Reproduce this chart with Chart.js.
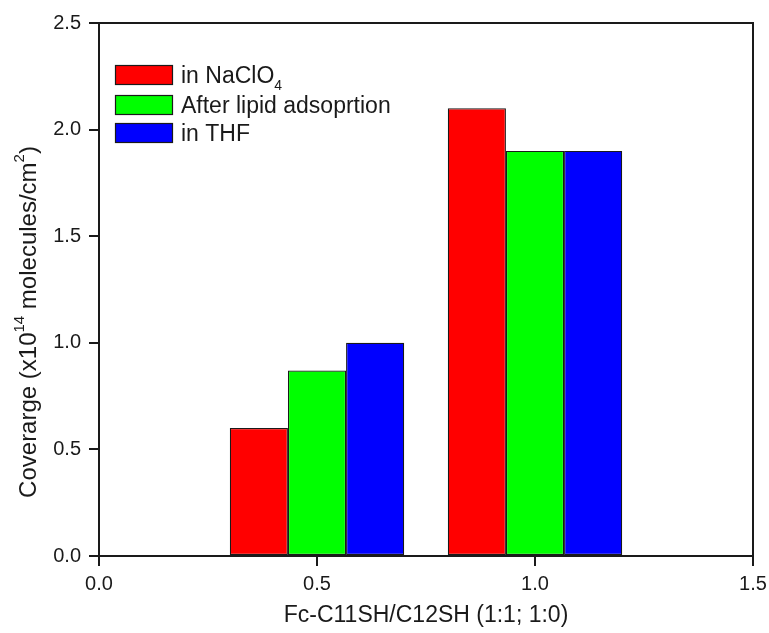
<!DOCTYPE html>
<html>
<head>
<meta charset="utf-8">
<script src="https://cdn.jsdelivr.net/npm/chart.js@4/dist/chart.umd.min.js"></script>
<style>
  html, body { margin: 0; padding: 0; background: #fff; }
  #wrap { position: relative; width: 769px; height: 633px; }
</style>
</head>
<body>
<div id="wrap"><canvas id="chart" width="769" height="633"></canvas></div>
<script>
// Composition ratio positions on the x axis
const ratios = [0.5, 1.0];

// Surface coverage (x10^14 molecules/cm^2) for each condition
const inNaClO4 = [0.6, 2.1];
const afterLipid = [0.87, 1.9];
const inTHF = [1.0, 1.9];

// Series names; "_{..}" marks a subscript, "^{..}" a superscript
const seriesNames = ['in NaClO_{4}', 'After lipid adsoprtion', 'in THF'];
const seriesColors = ['#ff0000', '#00ff00', '#0000ff'];

// Axis ticks and titles
const xTicks = [0.0, 0.5, 1.0, 1.5];
const yTicks = [0.0, 0.5, 1.0, 1.5, 2.0, 2.5];
const xTitle = 'Fc-C11SH/C12SH (1:1; 1:0)';
const yTitle = 'Coverarge (x10^{14} molecules/cm^{2})';

const FONT = '"Liberation Sans", Arial, sans-serif';
const INK = '#1a1a1a';

// Split "a_{b}c^{d}" into runs of normal, subscript and superscript text
function parseRich(s) {
  const runs = [];
  const re = /([_^])\{([^}]*)\}/g;
  let last = 0, m;
  while ((m = re.exec(s))) {
    if (m.index > last) runs.push({ t: s.slice(last, m.index), k: 'n' });
    runs.push({ t: m[2], k: m[1] === '_' ? 'sub' : 'sup' });
    last = re.lastIndex;
  }
  if (last < s.length) runs.push({ t: s.slice(last), k: 'n' });
  return runs;
}

function richWidth(ctx, s, size) {
  let w = 0;
  for (const r of parseRich(s)) {
    ctx.font = (r.k === 'n' ? size : Math.round(size * 0.62)) + 'px ' + FONT;
    w += ctx.measureText(r.t).width;
  }
  return w;
}

// Draws rich text with its left end at (x, y) on the alphabetic baseline
function drawRich(ctx, s, x, y, size) {
  ctx.textBaseline = 'alphabetic';
  ctx.textAlign = 'left';
  for (const r of parseRich(s)) {
    const sz = r.k === 'n' ? size : Math.round(size * 0.62);
    ctx.font = sz + 'px ' + FONT;
    const dy = r.k === 'sub' ? size * 0.3 : r.k === 'sup' ? -size * 0.48 : 0;
    ctx.fillText(r.t, x, y + dy);
    x += ctx.measureText(r.t).width;
  }
}

function series(values) {
  return ratios.map((x, i) => ({ x: x, y: values[i] }));
}

const datasets = [inNaClO4, afterLipid, inTHF].map((vals, i) => ({
  label: seriesNames[i].replace(/[_^]\{([^}]*)\}/g, '$1'),
  data: series(vals),
  backgroundColor: seriesColors[i],
  borderColor: INK,
  borderWidth: 1.2,
  borderSkipped: false,
  categoryPercentage: 0.8,
  barPercentage: 1.0
}));

// Frame, axis titles and legend drawn on top of the bars
const decorations = {
  id: 'decorations',
  afterDatasetsDraw(chart) {
    const { ctx, chartArea: a } = chart;
    ctx.save();
    ctx.strokeStyle = INK;
    ctx.lineWidth = 2;
    ctx.strokeRect(a.left, a.top, a.right - a.left, a.bottom - a.top);

    // legend in the upper left of the plot
    const size = 23;
    const rows = [75, 105, 133];
    seriesNames.forEach((name, i) => {
      const cy = rows[i];
      ctx.fillStyle = seriesColors[i];
      ctx.fillRect(115, cy - 10, 58, 20);
      ctx.lineWidth = 1.2;
      ctx.strokeStyle = INK;
      ctx.strokeRect(115.5, cy - 9.5, 57, 19);
      ctx.fillStyle = INK;
      drawRich(ctx, name, 181, cy + 8, size);
    });

    // x axis title
    ctx.fillStyle = INK;
    const xs = 23;
    const xw = richWidth(ctx, xTitle, xs);
    drawRich(ctx, xTitle, (a.left + a.right) / 2 - xw / 2, 622, xs);

    // y axis title, rotated
    const ys = 24;
    const yw = richWidth(ctx, yTitle, ys);
    ctx.translate(36, 322);
    ctx.rotate(-Math.PI / 2);
    drawRich(ctx, yTitle, -yw / 2, 0, ys);
    ctx.restore();
  }
};

new Chart(document.getElementById('chart'), {
  type: 'bar',
  data: { datasets: datasets },
  plugins: [decorations],
  options: {
    responsive: false,
    animation: false,
    devicePixelRatio: 1,
    layout: { padding: { top: 23, right: 16, left: 0, bottom: 0 } },
    plugins: { legend: { display: false }, tooltip: { enabled: false } },
    scales: {
      x: {
        type: 'linear',
        min: 0,
        max: 1.5,
        offset: false,
        afterFit: (s) => { s.height = 77; s.paddingLeft = 0; s.paddingRight = 0; },
        afterBuildTicks: (s) => { s.ticks = xTicks.map(v => ({ value: v })); },
        ticks: {
          color: INK,
          padding: 6,
          maxRotation: 0,
          font: { family: FONT, size: 20 },
          callback: (v) => Number(v).toFixed(1)
        },
        grid: { offset: false, drawOnChartArea: false, drawTicks: true, tickLength: 10, color: INK, lineWidth: 2 },
        border: { display: true, color: INK, width: 2 }
      },
      y: {
        min: 0,
        max: 2.5,
        afterFit: (s) => { s.width = 99; s.paddingTop = 0; s.paddingBottom = 0; },
        afterBuildTicks: (s) => { s.ticks = yTicks.map(v => ({ value: v })); },
        ticks: {
          color: INK,
          padding: 8,
          font: { family: FONT, size: 20 },
          callback: (v) => Number(v).toFixed(1)
        },
        grid: { drawOnChartArea: false, drawTicks: true, tickLength: 10, color: INK, lineWidth: 2 },
        border: { display: true, color: INK, width: 2 }
      }
    }
  }
});
</script>
</body>
</html>
